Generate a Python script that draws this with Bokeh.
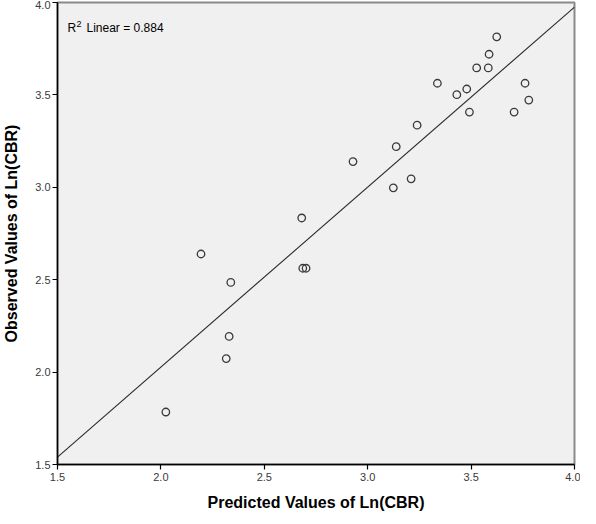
from bokeh.plotting import figure
from bokeh.models import Range1d, FixedTicker, Label, ColumnDataSource, NumeralTickFormatter
from bokeh.embed import file_html
from bokeh.resources import INLINE

# Data
predicted = [3.624, 3.587, 3.527, 3.583, 3.337, 3.761, 3.431, 3.479, 3.492, 3.708,
             3.779, 3.239, 3.138, 2.929, 3.124, 3.210, 2.681, 2.686, 2.702, 2.194,
             2.338, 2.024, 2.316, 2.330]
observed = [3.814, 3.720, 3.646, 3.646, 3.563, 3.563, 3.501, 3.532, 3.407, 3.407,
            3.472, 3.336, 3.220, 3.139, 2.997, 3.046, 2.834, 2.562, 2.562, 2.639,
            2.485, 1.784, 2.073, 2.193]
fit_intercept = 0.079
fit_slope = 0.974
x_ticks = [1.5, 2.0, 2.5, 3.0, 3.5, 4.0]
y_ticks = [1.5, 2.0, 2.5, 3.0, 3.5, 4.0]
axis_min, axis_max = 1.5, 4.0
r2_name = "R"
r2_power = "2"
r2_rest = "Linear = 0.884"
x_title = "Predicted Values of Ln(CBR)"
y_title = "Observed Values of Ln(CBR)"

FONT = "Liberation Sans"

p = figure(width=580, height=516, output_backend="svg", toolbar_location=None,
           x_range=Range1d(axis_min, axis_max), y_range=Range1d(axis_min, axis_max),
           min_border_left=52, min_border_top=2, min_border_right=6, min_border_bottom=52)

p.background_fill_color = "#F0F0F0"
p.border_fill_color = "white"
p.outline_line_color = "#8a8a8a"
p.outline_line_width = 2
p.grid.visible = False

fit_x = [axis_min, axis_max]
fit_y = [fit_intercept + fit_slope * v for v in fit_x]
p.line(fit_x, fit_y, line_color="#2a2a2a", line_width=1.1)

src = ColumnDataSource(dict(x=predicted, y=observed))
p.scatter("x", "y", source=src, marker="circle", size=7.5, fill_color=None,
          line_color="#3a3a3a", line_width=1.3)

for ax, title, ticks in ((p.xaxis[0], x_title, x_ticks), (p.yaxis[0], y_title, y_ticks)):
    ax.ticker = FixedTicker(ticks=ticks)
    ax.formatter = NumeralTickFormatter(format="0.0")
    ax.axis_label = title
    ax.axis_line_color = "#000000"
    ax.axis_line_width = 1.5
    ax.major_tick_line_color = "#000000"
    ax.major_tick_line_width = 1.2
    ax.major_tick_out = 5
    ax.major_tick_in = 0
    ax.minor_tick_line_color = None
    ax.major_label_text_font = FONT
    ax.major_label_text_font_size = "11px"
    ax.major_label_text_color = "#3a3a3a"
    ax.axis_label_text_font = FONT
    ax.axis_label_text_font_style = "bold"
    ax.axis_label_text_font_size = "16px"
    ax.axis_label_text_color = "#000000"

p.xaxis[0].major_label_standoff = 3
p.xaxis[0].axis_label_standoff = 10
p.yaxis[0].major_label_standoff = 2
p.yaxis[0].axis_label_standoff = 12

p.add_layout(Label(x=axis_min, y=axis_max, x_offset=10, y_offset=-25, text=r2_name,
                   text_font=FONT, text_font_size="12px", text_baseline="middle",
                   text_color="#000000"))
p.add_layout(Label(x=axis_min, y=axis_max, x_offset=19, y_offset=-21, text=r2_power,
                   text_font=FONT, text_font_size="9px", text_baseline="middle",
                   text_color="#000000"))
p.add_layout(Label(x=axis_min, y=axis_max, x_offset=29, y_offset=-25, text=r2_rest,
                   text_font=FONT, text_font_size="12px", text_baseline="middle",
                   text_color="#000000"))

open("out.html", "w").write(file_html(p, INLINE))
